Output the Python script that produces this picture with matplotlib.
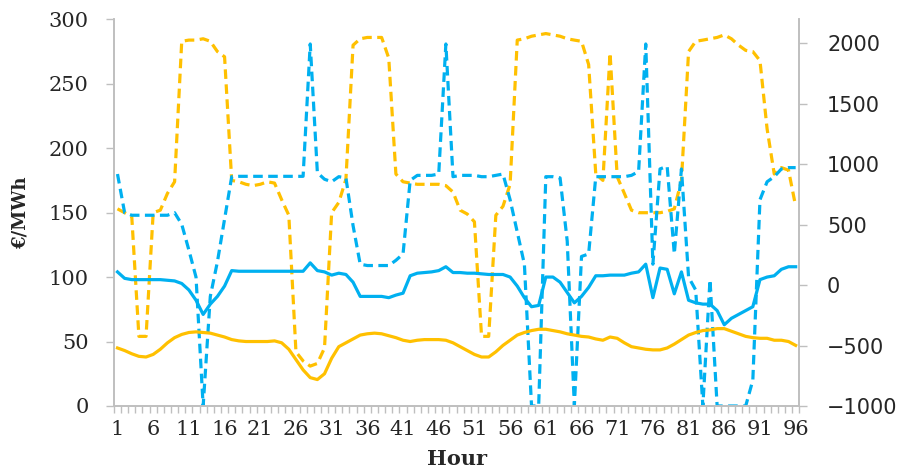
import matplotlib
matplotlib.use("Agg")
import matplotlib.pyplot as plt
import numpy as np

hours = list(range(1, 97))

# Left axis (€/MWh) - solid lines
price_blue = [104, 99, 98, 98, 98, 98, 98, 97.5, 97, 95, 90, 82, 71, 79, 85, 93, 105,
              104.5, 104.5, 104.5, 104.5, 104.5, 104.5, 104.5, 104.5, 104.5, 104.5, 111, 105, 104, 101.5, 103, 102,
              96, 85, 85, 85, 85, 84, 86, 87.5, 101, 103, 103.5, 104, 105, 108, 103.5, 103.5, 103,
              103, 102.5, 102, 102, 102, 100, 93, 84, 77, 78, 100, 100, 96, 88, 80, 85, 92,
              101, 101, 101.5, 101.5, 101.5, 103, 104, 110, 84, 107, 106, 87, 104, 82, 80, 79, 79,
              74, 63, 68, 71, 74, 77, 98, 100, 101, 106, 108, 108]
price_orange = [45, 43, 40.5, 38.5, 38, 40, 44, 49, 53, 55.5, 57, 57.5, 57, 56.5, 55, 53.5, 51.5,
                50.5, 50, 50, 50, 50, 50.5, 49, 44, 36, 28, 22, 20.5, 25, 37, 46, 49,
                52, 55, 56, 56.5, 56, 54.5, 53, 51, 50, 51, 51.5, 51.5, 51.5, 51, 49, 46, 43,
                40, 38, 38, 42, 47, 51, 55, 57, 58.5, 59.5, 59.5, 58.5, 57.5, 56, 55, 54, 53.5,
                52, 51, 53.5, 52.5, 49, 46, 45, 44, 43.5, 43.5, 45, 48, 51.5, 55, 57, 58.5, 59,
                60, 60, 58, 56, 54, 53, 52.5, 52.5, 51, 51, 50, 47]

# Right axis - dashed lines
right_blue = [919, 599, 578, 578, 578, 578, 578, 578, 599, 503, 290, 66, -1000, -94, 194, 546, 897,
              900, 900, 900, 900, 900, 900, 900, 900, 900, 900, 1995, 930, 876, 855, 897, 887,
              492, 173, 162, 162, 162, 162, 205, 258, 866, 908, 908, 908, 919, 1995, 897, 908, 908,
              908, 897, 897, 908, 919, 706, 439, 173, -1000, -1000, 897, 897, 887, 364, -1000, 237, 258,
              897, 897, 897, 897, 897, 908, 940, 1995, 173, 961, 983, 258, 961, 66, -41, -1000, 45,
              -1000, -1000, -1000, -1000, -1000, -787, 706, 855, 897, 961, 972, 972]
right_orange = [631, 599, 567, -424, -424, 599, 620, 759, 855, 2017, 2027, 2027, 2038, 2017, 1932, 1889, 866,
                855, 834, 823, 834, 855, 844, 706, 578, -552, -627, -670, -648, -520, 599, 684, 876,
                1985, 2038, 2049, 2049, 2049, 1878, 919, 855, 844, 834, 834, 834, 834, 823, 770, 620, 588,
                524, -424, -424, 578, 652, 834, 2027, 2038, 2059, 2070, 2081, 2070, 2059, 2038, 2027, 2017, 1825,
                919, 866, 1921, 897, 759, 620, 599, 599, 599, 599, 610, 631, 866, 1932, 2017, 2027, 2038,
                2049, 2070, 2038, 1985, 1942, 1932, 1857, 1292, 919, 972, 951, 652]

xtick_labels = [str(h) for h in range(1, 97, 5)]

BLUE = "#00B0F0"
ORANGE = "#FFC000"
GRAY = "#BFBFBF"
TXT = "#262626"

fig = plt.figure(figsize=(8.97, 4.68), dpi=100)
ax = fig.add_axes([0.127, 0.1325, 0.764, 0.8265])
ax2 = ax.twinx()
ax.set_zorder(ax2.get_zorder() + 1)
ax.patch.set_visible(False)

dash = (0, (3.0, 1.7))
ax2.plot(hours, right_orange, color=ORANGE, lw=2.3, linestyle=dash)
ax2.plot(hours, right_blue, color=BLUE, lw=2.3, linestyle=dash)
ax.plot(hours, price_orange, color=ORANGE, lw=2.3)
ax.plot(hours, price_blue, color=BLUE, lw=2.3)

ax.set_xlim(0.5, 96.5)
ax.set_ylim(0, 300)
ax2.set_ylim(-1000, 2200)
ax.set_yticks(np.arange(0, 301, 50))
ax2.set_yticks(np.arange(-1000, 2001, 500))

ax.set_xticks(list(range(1, 97, 5)))
ax.set_xticklabels(xtick_labels)
ax.set_xticks(np.arange(0.5, 97, 1), minor=True)

serif = ["DejaVu Serif"]
for lab in ax.get_xticklabels() + ax.get_yticklabels():
    lab.set_fontfamily(serif)
    lab.set_fontsize(15)
    lab.set_color(TXT)
for lab in ax2.get_yticklabels():
    lab.set_fontfamily(["DejaVu Sans"])
    lab.set_fontsize(15)
    lab.set_color(TXT)

ax.tick_params(axis="x", which="major", length=0, pad=10)
ax.tick_params(axis="x", which="minor", length=5, color=GRAY, width=1, direction="out")
ax.tick_params(axis="y", length=6, color=GRAY, width=1, pad=12)
ax2.tick_params(axis="y", length=6, color=GRAY, width=1, pad=14)

for a in (ax, ax2):
    a.spines["top"].set_visible(False)
    for s in ("left", "right", "bottom"):
        a.spines[s].set_color(GRAY)
        a.spines[s].set_linewidth(1.2)

ax.set_ylabel("€/MWh", fontfamily=serif, fontsize=13, fontweight="bold", labelpad=14, color=TXT)
ax.set_xlabel("Hour", fontfamily=serif, fontsize=15, fontweight="bold", labelpad=7, color=TXT)

fig.savefig("out.png", dpi=100)
